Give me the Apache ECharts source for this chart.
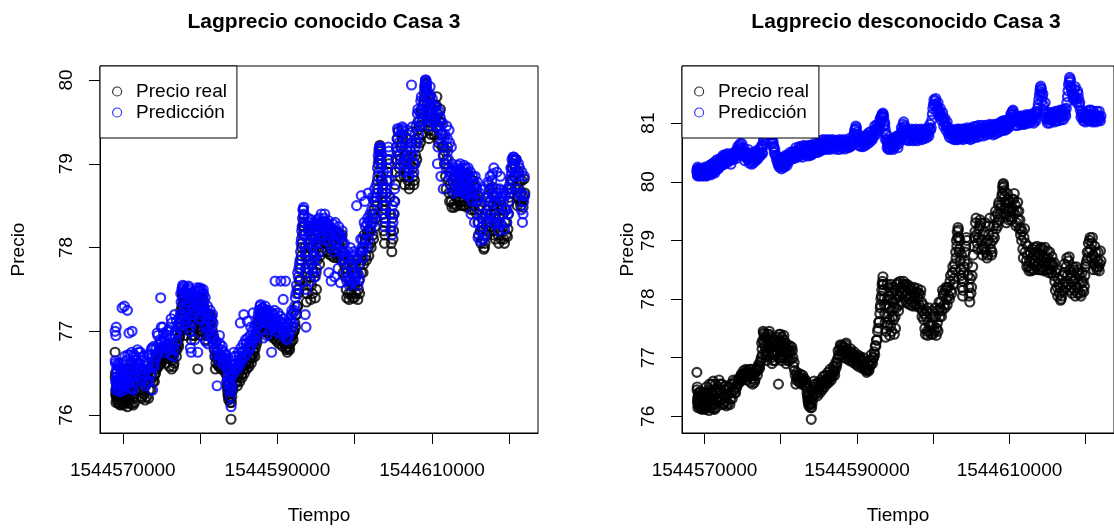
<!DOCTYPE html>
<html>
<head>
<meta charset="utf-8">
<script src="https://cdn.jsdelivr.net/npm/echarts@6/dist/echarts.min.js"></script>
<style>
  html, body { margin: 0; padding: 0; background: #ffffff; }
  #chart { width: 1114px; height: 530px; }
</style>
</head>
<body>
<div id="chart"></div>
<script>
// Marcas de tiempo (segundos Unix) de cada observación
const tiempo = [
  1544569000,1544569025,1544569050,1544569075,1544569100,1544569125,1544569150,1544569175,1544569200,1544569225,1544569250,1544569275,1544569300,1544569350,1544569400,1544569450,1544569500,1544569550,1544569600,1544569650,1544569700,1544569750,1544569800,1544569850,1544569900,1544569950,1544570000,
  1544570050,1544570100,1544570150,1544570200,1544570250,1544570300,1544570350,1544570400,1544570450,1544570500,1544570550,1544570600,1544570650,1544570700,1544570750,1544570800,1544570850,1544570900,1544570950,1544571000,1544571050,1544571100,1544571150,1544571200,1544571250,1544571300,1544571350,1544571400,1544571450,1544571500,1544571550,1544571600,1544571675,1544571750,1544571825,1544571900,
  1544571975,1544572050,1544572125,1544572200,1544572275,1544572350,1544572425,1544572500,1544572575,1544572650,1544572725,1544572800,1544572875,1544572950,1544573025,1544573100,1544573175,1544573250,1544573325,1544573400,1544573475,1544573550,1544573625,1544573700,1544573775,1544573850,1544573925,1544574000,
  1544574075,1544574150,1544574225,1544574300,1544574375,1544574450,1544574525,1544574600,1544574675,1544574750,1544574825,1544574900,1544574975,1544575050,1544575125,1544575200,1544575275,1544575350,1544575425,1544575500,1544575575,1544575650,1544575725,1544575800,1544575875,1544575950,1544576025,1544576100,1544576175,1544576250,1544576325,1544576400,1544576475,1544576550,1544576625,1544576700,1544576775,1544576850,1544576925,1544577000,1544577075,1544577150,1544577225,1544577300,
  1544577375,1544577450,1544577500,1544577550,1544577600,1544577650,1544577700,1544577750,1544577800,1544577850,1544577900,1544577950,1544578000,1544578050,1544578100,1544578150,1544578200,1544578250,1544578300,1544578350,1544578400,1544578450,1544578500,1544578550,1544578600,1544578650,1544578700,1544578750,1544578800,1544578850,1544578900,1544578950,1544579000,1544579050,1544579100,1544579150,
  1544579225,1544579300,1544579375,1544579450,1544579525,1544579600,1544579650,1544579700,
  1544579750,1544579800,1544579850,1544579900,1544579950,1544580000,1544580050,1544580100,1544580150,1544580200,1544580250,1544580300,1544580350,1544580400,1544580450,1544580500,1544580550,1544580600,1544580650,1544580700,1544580750,1544580800,1544580850,1544580900,1544580950,1544581000,
  1544581075,1544581150,1544581225,1544581300,1544581375,1544581450,1544581525,1544581600,1544581675,1544581750,
  1544581825,1544581900,1544581975,1544582050,1544582125,1544582200,1544582275,1544582350,1544582425,1544582500,1544582575,1544582650,1544582725,1544582800,1544582875,1544582950,1544583025,1544583100,1544583175,1544583250,
  1544583325,1544583400,1544583450,1544583500,1544583550,1544583600,1544583650,1544583700,1544583750,1544583800,1544583850,1544583900,1544583950,1544584000,1544584050,1544584100,1544584150,1544584200,1544584250,1544584300,1544584375,1544584450,1544584525,1544584600,1544584675,1544584750,
  1544584825,1544584900,1544584975,1544585050,1544585125,1544585200,1544585275,1544585350,1544585425,1544585500,1544585575,1544585650,1544585725,1544585800,1544585875,1544585950,1544586025,1544586100,1544586175,1544586250,1544586325,1544586400,1544586475,1544586550,1544586625,1544586700,1544586775,1544586850,1544586925,1544587000,1544587075,1544587150,1544587225,1544587300,
  1544587375,1544587450,1544587525,1544587600,1544587675,1544587750,1544587825,1544587900,1544587975,1544588050,1544588125,1544588200,1544588275,1544588350,1544588425,1544588500,1544588575,1544588650,1544588725,1544588800,1544588875,1544588950,1544589025,1544589100,1544589175,1544589250,
  1544589325,1544589400,1544589475,1544589550,1544589625,1544589700,1544589775,1544589850,1544589925,1544590000,1544590075,1544590150,1544590225,1544590300,1544590375,1544590450,1544590525,1544590600,1544590675,1544590750,1544590825,1544590900,1544590975,1544591050,1544591125,1544591200,1544591275,1544591350,1544591425,1544591500,1544591575,1544591650,1544591725,1544591800,1544591875,1544591950,1544592025,1544592100,
  1544592175,1544592250,1544592325,1544592400,1544592475,1544592550,1544592625,1544592700,1544592775,1544592850,1544592925,1544593000,
  1544593050,1544593100,1544593150,1544593200,1544593250,1544593300,1544593350,1544593400,1544593450,1544593500,1544593550,1544593600,1544593650,1544593700,1544593750,1544593800,1544593850,1544593900,1544593950,1544594000,1544594050,1544594100,1544594150,1544594200,1544594250,1544594300,1544594350,1544594400,1544594450,1544594500,1544594550,1544594600,1544594650,1544594700,1544594750,1544594800,1544594850,1544594900,1544594950,1544595000,1544595050,1544595100,1544595150,1544595200,1544595250,1544595300,
  1544595375,1544595450,1544595525,1544595600,1544595675,1544595750,1544595825,1544595900,1544595975,1544596050,1544596125,1544596200,
  1544596275,1544596350,1544596425,1544596500,1544596575,1544596650,1544596725,1544596800,1544596875,1544596950,1544597025,1544597100,1544597175,1544597250,1544597325,1544597400,1544597475,1544597550,1544597625,1544597700,1544597775,1544597850,1544597925,1544598000,1544598075,1544598150,1544598225,1544598300,1544598375,1544598450,1544598525,1544598600,1544598675,1544598750,1544598825,1544598900,1544598975,1544599050,1544599125,1544599200,1544599275,1544599350,1544599425,1544599500,1544599575,1544599650,1544599725,1544599800,1544599875,1544599950,1544600025,1544600100,1544600175,1544600250,1544600325,1544600400,1544600475,1544600550,1544600625,1544600700,1544600775,1544600850,1544600925,1544601000,1544601075,1544601150,1544601225,1544601300,1544601375,1544601450,1544601525,1544601600,1544601675,1544601750,1544601825,1544601900,1544601975,1544602050,
  1544602125,1544602200,1544602275,1544602350,1544602425,1544602500,1544602575,1544602650,1544602725,1544602800,1544602875,1544602950,
  1544603000,1544603050,1544603100,1544603150,1544603200,1544603250,1544603300,1544603350,1544603400,1544603450,1544603500,1544603550,1544603600,1544603650,1544603700,1544603750,1544603800,1544603850,1544603900,1544603950,1544604000,1544604050,
  1544604125,1544604200,1544604275,1544604350,1544604425,1544604500,1544604575,1544604650,1544604725,1544604800,1544604875,1544604950,1544605025,1544605100,1544605175,1544605250,1544605325,1544605400,1544605475,1544605550,1544605625,1544605700,1544605775,1544605850,1544605925,1544606000,1544606075,1544606150,1544606225,1544606300,1544606375,1544606450,1544606525,1544606600,1544606675,1544606750,1544606825,1544606900,1544606975,1544607050,1544607125,1544607200,1544607275,1544607350,1544607425,1544607500,1544607575,1544607650,
  1544607725,1544607800,1544607875,1544607950,1544608025,1544608100,1544608175,1544608250,1544608325,1544608400,1544608475,1544608550,1544608625,1544608700,1544608775,1544608850,1544608925,1544609000,
  1544609050,1544609100,1544609150,1544609200,1544609250,1544609300,1544609350,1544609400,1544609450,1544609500,1544609550,1544609600,1544609650,1544609700,1544609750,1544609800,
  1544609875,1544609950,1544610025,1544610100,1544610175,1544610250,
  1544610325,1544610400,1544610475,1544610550,1544610625,1544610700,1544610775,1544610850,1544610925,1544611000,1544611075,1544611150,1544611225,1544611300,1544611375,1544611450,1544611525,1544611600,1544611675,1544611750,1544611825,1544611900,1544611975,1544612050,1544612125,1544612200,1544612275,1544612350,1544612425,1544612500,1544612575,1544612650,1544612725,1544612800,
  1544612875,1544612950,1544613025,1544613100,1544613175,1544613250,1544613325,1544613400,1544613475,1544613550,1544613625,1544613700,1544613775,1544613850,1544613925,1544614000,
  1544614050,1544614100,1544614150,1544614200,1544614250,1544614300,
  1544614375,1544614450,1544614525,1544614600,1544614675,1544614750,1544614825,1544614900,1544614975,1544615050,1544615125,1544615200,1544615275,1544615350,1544615425,1544615500,
  1544615575,1544615650,1544615725,1544615800,1544615875,1544615950,1544616025,1544616100,1544616175,1544616250,1544616325,1544616400,1544616475,1544616550,1544616625,1544616700,1544616775,1544616850,1544616925,1544617000,1544617075,1544617150,1544617225,1544617300,1544617375,1544617450,1544617525,1544617600,1544617675,1544617750,1544617825,1544617900,
  1544617950,1544618000,1544618050,1544618100,1544618175,1544618250,1544618325,1544618400,
  1544618475,1544618550,1544618625,1544618700,1544618775,1544618850,1544618925,1544619000,1544619075,1544619150,1544619225,1544619300,1544619375,1544619450,1544619525,1544619600,1544619675,1544619750,1544619825,1544619900,1544619975,1544620050,1544620125,1544620200,1544620275,1544620350,1544620425,1544620500,1544620575,1544620650,1544620725,1544620800,1544620875,1544620950,1544621025,1544621100,1544621175,1544621250,1544621325,1544621400,1544621475,1544621550,1544621625,1544621700,1544621775,1544621850,1544621925,1544622000
];

// Precio observado
const precioReal = [
  76.75,76.45,76.50,76.25,76.30,76.15,76.22,76.35,76.40,76.25,76.18,76.40,76.28,76.22,76.15,76.42,76.35,76.13,76.20,76.38,76.12,76.22,76.30,76.40,76.18,76.14,76.25,
  76.40,76.12,76.22,76.35,76.50,76.15,76.28,76.40,76.45,76.20,76.32,76.10,76.55,76.30,76.25,76.18,76.15,76.42,76.55,76.22,76.38,76.13,76.60,76.35,76.28,76.20,76.12,76.45,76.55,76.15,76.40,76.30,76.25,76.50,76.40,76.62,
  76.45,76.55, 76.30,76.40, 76.55,76.30, 76.20,76.22, 76.35,76.45, 76.52,76.25, 76.18,76.35, 76.48,76.22, 76.40,76.50, 76.20,76.30, 76.55,76.40, 76.30,76.55, 76.62,76.45, 76.40,76.60,
  76.40,76.48, 76.50,76.55, 76.55,76.62, 76.65,76.58, 76.60,76.68, 76.72,76.65, 76.62,76.72, 76.78,76.70, 76.66,76.75, 76.80,76.68, 76.62,76.78, 76.74,76.72, 76.68,76.80, 76.58,76.70, 76.80,76.75, 76.55,76.65, 76.70,76.58, 76.62,76.75, 76.78,76.82, 76.70,76.78, 76.88,76.85, 76.82,76.92,
  76.95,77.00, 77.25,77.15, 77.05,77.30, 77.45,77.42, 77.25,77.35, 77.40,77.20, 77.12,77.05, 77.35,76.95, 77.02,77.10, 77.40,77.25, 77.18,77.40, 77.45,77.30, 77.22,77.15, 77.35,77.00, 77.08,76.90, 77.25,77.05, 76.95,77.20, 77.30,77.10,
  77.05,76.95, 77.30,77.20, 77.10,77.35, 77.25,76.55,
  77.15,77.40, 77.00,77.30, 77.40,77.10, 77.20,76.95, 77.35,77.05, 77.00,77.25, 77.15,77.38, 77.30,77.20, 77.10,77.00, 77.25,76.90, 77.10,77.05, 76.95,77.15, 77.20,76.98,
  77.10,76.95, 77.20,77.10, 76.98,77.18, 77.12,77.00, 76.85,76.92,
  76.78,76.70, 76.55,76.62, 76.75,76.68, 76.68,76.60, 76.58,76.66, 76.72,76.58, 76.55,76.65, 76.70,76.60, 76.65,76.55, 76.52,76.62,
  76.58,76.48, 76.40,76.35, 76.30,76.25, 76.22,76.18, 76.38,76.30, 76.20,76.15, 76.28,75.95, 76.15,76.22, 76.42,76.35, 76.30,76.45, 76.60,76.55, 76.38,76.50, 76.55,76.40,
  76.35,76.45, 76.58,76.50, 76.40,76.55, 76.62,76.48, 76.45,76.58, 76.68,76.55, 76.50,76.62, 76.70,76.60, 76.55,76.65, 76.75,76.62, 76.58,76.70, 76.80,76.68, 76.62,76.72, 76.68,76.78, 76.85,76.75, 76.70,76.80, 76.92,76.85,
  76.90,76.98, 77.12,77.05, 77.02,77.15, 77.22,77.20, 77.05,77.12, 77.20,77.08, 77.00,77.18, 77.12,77.22, 77.25,77.15, 76.98,77.05, 77.12,77.00, 76.95,77.10, 77.15,77.02,
  77.08,76.95, 76.92,77.05, 77.10,76.98, 77.02,76.90, 76.88,77.00, 77.05,76.92, 76.85,76.98, 77.02,76.95, 76.98,76.88, 76.82,76.95, 77.00,76.85, 76.90,76.80, 76.85,76.78, 76.75,76.82, 76.90,76.80, 76.78,76.85, 76.95,76.88, 77.05,76.95, 76.90,77.00,
  77.00,77.10, 77.05,77.20, 77.20,77.30, 77.30,77.45, 77.50,77.60, 77.62,77.75,
  77.85,77.90, 78.00,78.05, 78.15,78.25, 78.30,78.38, 78.25,78.15, 78.00,77.90, 77.75,77.60, 77.35,77.45, 77.90,77.70, 78.25,78.00, 77.55,78.20, 78.05,77.85, 77.65,77.38, 78.00,77.55, 78.25,77.80, 77.45,78.10, 77.70,77.95, 78.20,77.65, 77.85,77.40, 78.15,77.70, 77.50,78.00, 77.85,78.25, 78.10,78.05,
  78.28,77.80, 77.90,78.05, 78.30,78.20, 77.95,78.10, 78.12,78.25, 78.30,78.15,
  78.25,78.05, 77.95,78.20, 78.25,78.10, 77.92,78.00, 78.22,78.15, 77.90,78.05, 78.18,77.95, 77.88,78.10, 78.20,78.05, 78.10,77.92, 77.88,78.12, 78.18,78.02, 78.10,77.90, 77.85,78.08, 78.15,77.95, 77.70,77.80, 77.90,77.65, 77.75,77.50, 77.40,77.70, 77.80,77.45,
  77.38,77.60, 77.85,77.45, 77.55,77.75, 77.40,77.55, 77.80,77.40, 77.55,77.70, 77.45,77.85, 77.70,77.38, 77.50,77.60, 77.45,77.80, 77.95,77.70, 77.85,77.95, 77.70,77.80, 78.15,78.05, 78.10,77.90, 77.85,78.15, 78.20,78.00, 77.90,78.20, 78.20,78.05,
  78.00,78.30, 78.40,78.15, 78.10,78.45, 78.55,78.25, 78.35,78.60, 78.50,78.80,
  78.70,79.00, 78.90,79.15, 79.05,79.22, 79.18,79.05, 78.80,78.85, 79.00,78.65, 78.50,78.40, 78.75,78.20, 78.35,78.05, 78.15,78.30, 78.45,78.55,
  78.65,78.80, 78.90,79.05, 79.00,78.60, 78.40,78.20, 78.05,77.95, 78.35,78.10, 78.20,78.40, 78.55,78.75, 78.90,79.05, 79.15,79.30, 79.38,79.10, 78.95,78.85, 79.05,79.20, 79.25,79.35, 79.30,79.00, 78.85,78.75, 79.10,78.90, 78.85,79.15, 79.30,78.80, 78.95,78.70, 78.75,79.00, 79.10,79.25, 79.38,78.95, 78.85,78.75,
  78.80,79.00, 79.10,79.25, 79.05,79.40, 79.50,79.20, 79.30,79.45, 79.25,79.60, 79.65,79.35, 79.45,79.55, 79.60,79.75,
  79.80,79.90, 79.95,79.97, 79.92,79.85, 79.75,79.65, 79.55,79.45, 79.40,79.30, 79.65,79.50, 79.80,79.70,
  79.35,79.55, 79.65,79.40, 79.50,79.35,
  79.70,79.55, 79.50,79.70, 79.80,79.45, 79.60,79.25, 79.30,79.50, 79.65,79.35, 79.50,79.20, 79.35,79.10, 79.20,79.00, 79.15,78.85, 78.70,79.05, 79.20,78.80, 78.95,78.65, 78.55,78.75, 78.90,78.55, 78.48,78.65, 78.80,78.52,
  78.48,78.70, 78.85,78.60, 78.50,78.75, 78.88,78.65, 78.55,78.80, 78.90,78.70, 78.50,78.60, 78.85,78.75,
  78.50,78.68, 78.88,78.55, 78.50,78.65,
  78.85,78.72, 78.48,78.62, 78.88,78.70, 78.50,78.58, 78.82,78.70, 78.45,78.62, 78.80,78.50, 78.62,78.45,
  78.72,78.60, 78.55,78.40, 78.62,78.30, 78.15,78.45, 78.50,78.20, 78.05,78.35, 78.25,78.10, 78.20,77.98, 78.00,78.05, 78.40,78.25, 78.15,78.45, 78.60,78.30, 78.20,78.55, 78.70,78.40, 78.25,78.65, 78.72,78.50,
  78.15,78.35, 78.45,78.20, 78.10,78.40, 78.55,78.30,
  78.50,78.15, 78.05,78.35, 78.55,78.20, 78.10,78.45, 78.50,78.25, 78.40,78.10, 78.05,78.30, 78.45,78.15, 78.30,78.13, 78.22,78.40, 78.55,78.60, 78.65,78.80, 78.70,78.95, 78.80,79.00, 79.05,78.85, 78.70,78.95, 79.05,78.75, 78.50,78.60, 78.90,78.70, 78.80,78.55, 78.50,78.65, 78.80,78.55, 78.48,78.60, 78.82,78.65
];

// Predicción con el precio retardado conocido
const predConocido = [
  77.00,76.65,76.62,76.40,76.95,76.30,77.05,76.50,76.55,76.42,76.35,76.60,76.45,76.38,76.30,76.58,76.62,76.32,76.42,76.55,76.28,76.45,76.50,76.62,77.28,76.35,76.40,
  76.55,76.30,76.45,77.30,76.70,76.38,76.42,76.55,76.65,76.35,76.50,77.25,76.72,76.52,76.40,76.98,76.33,76.60,76.72,76.45,76.55,76.32,76.75,77.00,76.45,76.48,76.30,76.62,76.72,76.40,76.58,76.70,76.45,76.65,76.60,76.78,
  76.62,76.75, 76.48,76.60, 76.75,76.55, 76.40,76.45, 76.55,76.70, 76.70,76.50, 76.35,76.62, 76.65,76.38, 76.58,76.72, 76.40,76.55, 76.72,76.48, 76.50,76.78, 76.80,76.30, 76.60,76.82,
  76.58,76.65, 76.72,76.80, 76.70,76.98, 76.95,76.75, 76.78,76.85, 76.90,77.40, 77.05,76.88, 76.82,77.05, 76.98,76.92, 76.88,76.80, 76.75,76.95, 77.00,76.85, 76.82,77.02, 76.95,76.78, 76.72,77.15, 77.10,76.82, 76.85,76.70, 76.78,77.20, 76.95,77.00, 77.12,76.88, 76.98,77.08, 77.05,77.15,
  77.10,77.20, 77.45,77.35, 77.20,77.50, 77.52,77.55, 77.38,77.48, 77.54,77.40, 77.25,77.30, 77.48,77.10, 77.15,77.25, 77.50,77.45, 77.35,77.52, 77.54,77.45, 77.30,77.00, 77.05,76.80, 77.15,76.75, 77.40,77.20, 77.10,77.35, 77.45,77.25,
  77.20,76.90, 77.48,77.40, 77.25,77.52, 77.40,76.75,
  77.30,77.50, 77.15,77.48, 77.52,77.30, 77.35,77.15, 77.50,77.45, 77.20,77.40, 77.30,77.50, 77.45,77.35, 77.25,77.05, 77.40,76.88, 77.15,77.22, 77.05,77.00, 77.30,76.85,
  77.20,77.12, 77.00,77.25, 77.15,76.92, 77.05,77.20, 77.10,76.95,
  76.90,76.80, 76.72,76.85, 76.88,76.35, 76.80,76.72, 76.65,76.95, 76.85,76.70, 76.70,76.78, 76.82,76.62, 76.60,76.75, 76.72,76.68,
  76.72,76.65, 76.60,76.55, 76.40,76.45, 76.48,76.30, 76.55,76.40, 76.35,76.22, 76.45,76.10, 76.28,76.35, 76.60,76.50, 76.48,76.60, 76.75,76.70, 76.55,76.62, 76.70,76.58,
  76.55,76.62, 76.75,76.70, 76.60,77.10, 76.80,76.68, 76.65,76.75, 76.85,77.20, 76.70,76.78, 76.90,76.85, 76.72,77.12, 76.92,76.80, 76.78,76.88, 76.95,77.05, 76.82,76.90, 77.00,77.22, 76.88,76.92, 77.05,76.98, 76.95,77.08,
  77.05,77.15, 77.20,77.25, 77.10,77.30, 77.32,77.22, 77.18,77.28, 77.28,76.92, 77.12,77.26, 77.30,77.10, 77.22,76.95, 77.15,77.20, 77.25,77.12, 77.08,77.02, 77.20,76.75,
  77.22,77.10, 77.05,77.20, 77.25,77.60, 77.15,77.05, 77.00,77.15, 77.22,76.98, 77.05,77.12, 77.18,77.60, 77.10,77.05, 76.95,77.38, 77.15,77.00, 77.05,77.60, 77.00,76.90, 76.92,77.10, 77.08,76.95, 77.00,77.15, 77.12,77.20, 77.25,77.05, 77.10,77.22,
  77.25,77.30, 77.40,77.45, 77.55,77.50, 77.70,77.65, 77.75,77.80, 77.85,77.95,
  78.05,78.10, 78.20,78.25, 78.35,78.45, 78.45,78.48, 78.40,78.30, 78.15,77.20, 77.95,77.05, 77.50,77.70, 78.10,77.95, 78.35,78.20, 77.75,78.30, 78.25,78.05, 77.85,77.60, 78.15,77.80, 78.33,78.00, 77.70,78.25, 77.90,78.12, 78.30,77.85, 78.05,77.65, 78.28,77.90, 77.75,78.18, 78.05,78.33, 78.25,78.20,
  78.35,77.95, 78.10,78.22, 78.40,78.30, 78.15,78.25, 78.30,78.35, 78.40,78.30,
  78.30,78.20, 78.10,78.28, 78.32,77.70, 78.05,78.15, 78.25,77.60, 78.00,78.22, 78.28,78.10, 77.95,77.65, 78.30,78.18, 78.15,78.05, 77.98,77.75, 78.25,78.15, 78.15,77.58, 77.95,78.12, 78.20,78.05, 77.85,77.95, 78.05,77.85, 77.90,77.70, 77.60,77.88, 77.95,77.65,
  77.55,77.80, 78.00,77.62, 77.70,77.90, 77.58,77.75, 77.95,77.60, 77.70,77.85, 77.65,78.50, 77.88,77.55, 77.68,77.80, 77.62,77.95, 78.10,78.62, 78.00,78.10, 77.88,78.00, 78.30,78.55, 78.25,78.08, 78.00,78.28, 78.35,78.65, 78.10,78.32, 78.40,78.25,
  78.20,78.45, 78.60,78.35, 78.30,78.60, 78.70,78.40, 78.55,78.75, 78.65,78.95,
  78.85,79.10, 79.05,79.18, 79.15,79.20, 79.20,79.15, 78.95,79.00, 79.10,78.80, 78.70,78.60, 78.90,78.40, 78.50,78.25, 78.35,78.50, 78.65,78.70,
  78.80,78.95, 79.05,79.20, 79.15,78.80, 78.60,78.40, 78.25,78.15, 78.50,78.30, 78.40,78.55, 78.70,78.90, 79.05,79.20, 79.30,79.42, 79.40,79.25, 79.10,79.00, 79.20,79.35, 79.40,79.44, 79.42,79.15, 79.00,78.90, 79.25,79.05, 79.00,79.30, 79.40,78.95, 79.10,78.85, 78.92,79.15, 79.25,79.94, 79.44,79.10, 79.00,78.90,
  79.00,79.20, 79.30,79.45, 79.25,79.60, 79.65,79.35, 79.50,79.62, 79.45,79.75, 79.80,79.50, 79.60,79.70, 79.75,79.85,
  79.92,79.95, 80.00,80.00, 79.98,79.95, 79.88,79.80, 79.70,79.60, 79.55,79.45, 79.78,79.65, 79.92,79.82,
  79.50,79.70, 79.78,79.55, 79.65,79.50,
  79.55,79.68, 79.68,79.60, 79.45,79.00, 79.20,79.40, 79.45,79.62, 79.55,78.85, 79.25,79.35, 79.48,78.70, 79.10,79.30, 79.35,79.00, 78.95,79.45, 79.30,79.15, 79.05,79.40, 79.25,78.90, 78.85,79.20, 79.00,78.80, 78.92,78.70,
  78.65,78.85, 78.95,78.78, 78.68,78.90, 78.98,78.80, 78.70,78.93, 79.00,78.85, 78.68,78.75, 78.95,78.90,
  78.65,78.82, 78.98,78.70, 78.65,78.80,
  78.95,78.88, 78.62,78.78, 78.95,78.85, 78.65,78.72, 78.90,78.40, 78.58,78.55, 78.85,78.65, 78.75,78.30,
  78.85,78.75, 78.70,78.55, 78.78,78.12, 78.30,78.60, 78.65,78.08, 78.20,78.50, 78.40,78.25, 78.35,78.10, 78.15,78.70, 78.55,78.40, 78.30,78.60, 78.78,78.75, 78.38,78.68, 78.85,78.55, 78.42,78.80, 78.88,78.62,
  78.30,78.95, 78.62,78.35, 78.28,78.55, 78.70,78.90,
  78.65,78.30, 78.20,78.50, 78.70,78.85, 78.28,78.60, 78.68,78.40, 78.55,78.65, 78.22,78.45, 78.62,78.30, 78.45,78.70, 78.40,78.55, 78.70,78.75, 78.82,78.95, 78.88,79.05, 78.95,79.08, 79.08,79.00, 78.85,79.05, 79.05,78.90, 78.65,78.70, 79.00,78.85, 78.95,78.65, 78.62,78.45, 78.90,78.30, 78.40,78.55, 78.85,78.62
];

// Predicción sin conocer el precio retardado
const predDesconocido = [
  80.20,80.17,80.15,80.10,80.25,80.22,80.12,80.15,80.18,80.20,80.10,80.12,80.22,80.18,80.13,80.10,80.20,80.22,80.15,80.14,80.10,80.20,80.18,80.10,80.12,80.18,80.22,
  80.25,80.14,80.10,80.20,80.22,80.10,80.15,80.17,80.25,80.12,80.12,80.22,80.28,80.15,80.20,80.18,80.12,80.25,80.30,80.15,80.18,80.20,80.32,80.28,80.22,80.18,80.15,80.22,80.35,80.30,80.20,80.24,80.38,80.32,80.22,80.28,
  80.25,80.35, 80.40,80.30, 80.28,80.42, 80.45,80.32, 80.30,80.40, 80.46,80.35, 80.32,80.45, 80.48,80.38, 80.35,80.42, 80.45,80.36, 80.30,80.44, 80.48,80.40, 80.38,80.48, 80.42,80.50,
  80.52,80.45, 80.40,80.55, 80.60,80.50, 80.48,80.62, 80.65,80.58, 80.55,80.65, 80.45,80.52, 80.58,80.48, 80.36,80.44, 80.50,80.40, 80.42,80.50, 80.55,80.38, 80.32,80.45, 80.48,80.35, 80.30,80.42, 80.45,80.32, 80.50,80.38, 80.35,80.45, 80.52,80.40, 80.38,80.48, 80.55,80.42, 80.48,80.55,
  80.45,80.58, 80.62,80.50, 80.48,80.62, 80.60,80.70, 80.72,80.80, 80.78,80.88, 80.90,80.95, 80.95,81.02, 80.90,80.98, 80.95,81.00, 81.02,80.92, 80.95,80.85, 80.82,80.90, 80.88,80.80, 80.75,80.72, 80.80,80.65, 80.68,80.58, 80.60,80.50,
  80.55,80.45, 80.45,80.38, 80.42,80.32, 80.35,80.28,
  80.38,80.25, 80.30,80.35, 80.42,80.28, 80.35,80.22, 80.28,80.30, 80.36,80.40, 80.25,80.32, 80.40,80.25, 80.30,80.38, 80.45,80.30, 80.36,80.42, 80.28,80.35, 80.46,80.40,
  80.35,80.45, 80.50,80.38, 80.42,80.45, 80.40,80.50, 80.52,80.42,
  80.40,80.48, 80.58,80.52, 80.50,80.45, 80.42,80.55, 80.60,80.50, 80.45,80.58, 80.60,80.48, 80.42,80.55, 80.62,80.52, 80.48,80.60,
  80.45,80.55, 80.60,80.50, 80.44,80.58, 80.62,80.52, 80.58,80.48, 80.45,80.55, 80.62,80.50, 80.46,80.58, 80.62,80.52, 80.48,80.60, 80.65,80.55, 80.50,80.58, 80.55,80.62,
  80.50,80.58, 80.66,80.62, 80.52,80.55, 80.70,80.65, 80.54,80.60, 80.72,80.68, 80.55,80.62, 80.70,80.58, 80.56,80.66, 80.72,80.60, 80.55,80.68, 80.70,80.62, 80.58,80.65, 80.72,80.60, 80.56,80.66, 80.70,80.62, 80.60,80.68,
  80.70,80.62, 80.55,80.66, 80.72,80.60, 80.56,80.65, 80.70,80.62, 80.58,80.68, 80.72,80.63, 80.56,80.66, 80.70,80.62, 80.68,80.60, 80.58,80.65, 80.74,80.68, 80.60,80.62,
  80.62,80.70, 80.72,80.78, 80.82,80.88, 80.90,80.95, 80.92,80.85, 80.80,80.75, 80.62,80.68, 80.72,80.62, 80.60,80.70, 80.75,80.65, 80.60,80.72, 80.78,80.68, 80.62,80.75, 80.80,80.70, 80.65,80.78, 80.84,80.72, 80.68,80.80, 80.86,80.75, 80.72,80.82,
  80.78,80.85, 80.95,80.90, 80.80,80.88, 80.98,80.92, 80.86,80.95, 80.92,81.00,
  81.08,81.05, 81.02,81.10, 81.12,81.15, 81.10,81.17, 81.14,81.10, 80.95,81.02, 80.98,80.90, 80.72,80.80, 80.82,80.72, 80.58,80.65, 80.70,80.60, 80.55,80.58, 80.68,80.62, 80.56,80.68, 80.72,80.65, 80.60,80.70, 80.74,80.62, 80.55,80.58, 80.72,80.66, 80.60,80.72, 80.76,80.68, 80.62,80.75, 80.78,80.70,
  80.58,80.65, 80.80,80.72, 80.70,80.78, 80.92,80.85, 80.88,80.98, 81.02,80.92,
  80.95,80.85, 80.72,80.80, 80.88,80.75, 80.70,80.82, 80.88,80.78, 80.72,80.85, 80.90,80.80, 80.70,80.76, 80.88,80.84, 80.72,80.78, 80.90,80.82, 80.70,80.75, 80.88,80.80, 80.74,80.86, 80.90,80.78, 80.72,80.82, 80.88,80.76, 80.74,80.84, 80.90,80.80, 80.75,80.86,
  80.92,80.82, 80.78,80.90, 80.98,80.88, 80.92,81.05, 81.15,81.25, 81.32,81.40, 81.30,81.38, 81.42,81.32, 81.20,81.28, 81.35,81.22, 81.12,81.18, 81.25,81.15, 81.05,81.10, 81.18,81.08, 80.95,81.02, 81.08,80.98, 80.88,80.95, 81.02,80.92, 80.82,80.88,
  80.76,80.85, 80.90,80.80, 80.74,80.88, 80.88,80.78, 80.72,80.82, 80.86,80.75,
  80.72,80.80, 80.90,80.85, 80.72,80.78, 80.88,80.82, 80.90,80.76, 80.74,80.84, 80.88,80.80, 80.74,80.86, 80.90,80.80, 80.72,80.78, 80.88,80.84,
  80.90,80.78, 80.74,80.85, 80.92,80.80, 80.74,80.88, 80.90,80.82, 80.72,80.78, 80.92,80.85, 80.74,80.80, 80.94,80.86, 80.76,80.82, 80.94,80.88, 80.76,80.84, 80.96,80.90, 80.78,80.86, 80.84,80.92, 80.96,80.88, 80.78,80.85, 80.84,80.92, 80.96,80.88, 80.80,80.90, 80.96,80.86, 80.82,80.92, 80.98,80.88, 80.84,80.95,
  80.96,80.85, 80.80,80.92, 80.98,80.88, 80.82,80.95, 80.98,80.90, 80.84,80.96, 81.00,80.92, 80.86,80.98, 81.02,80.94,
  80.88,81.00, 81.04,80.96, 80.88,81.00, 81.04,80.95, 80.88,80.98, 81.04,80.94, 80.90,81.00, 81.05,80.96,
  80.92,81.02, 81.08,80.98, 81.15,81.10,
  81.18,81.20, 81.22,81.15, 81.12,81.08, 80.96,81.05, 81.10,81.02, 80.96,81.06, 81.12,81.02, 80.98,81.08, 81.12,81.04, 80.98,81.08, 81.12,81.02, 80.98,81.06, 81.14,81.04, 81.00,81.08, 81.14,81.05, 81.00,81.10, 81.14,81.06,
  81.02,81.10, 81.16,81.08, 81.00,81.12, 81.18,81.08, 81.04,81.15, 81.20,81.25, 81.32,81.40, 81.48,81.55,
  81.60,81.63, 81.52,81.58, 81.38,81.45,
  81.50,81.30, 81.22,81.18, 81.35,81.10, 81.15,81.05, 81.00,81.08, 81.18,81.12, 81.00,81.06, 81.18,81.10,
  81.04,81.15, 81.18,81.08, 81.02,81.12, 81.20,81.10, 81.04,81.14, 81.20,81.10, 81.04,81.16, 81.22,81.12, 81.06,81.15, 81.22,81.12, 81.06,81.18, 81.24,81.15, 81.12,81.25, 81.35,81.45, 81.55,81.65, 81.70,81.78,
  81.75,81.72, 81.62,81.60, 81.55,81.50, 81.48,81.40,
  81.45,81.58, 81.62,81.45, 81.40,81.35, 81.55,81.50, 81.42,81.30, 81.35,81.22, 81.10,81.15, 81.20,81.10, 81.04,81.12, 81.18,81.08, 81.02,81.12, 81.20,81.10, 81.04,81.14, 81.22,81.10, 81.04,81.15, 81.22,81.12, 81.02,81.08, 81.20,81.12, 81.04,81.10, 81.02,81.14, 81.20,81.10, 81.04,81.12, 81.20,81.08, 81.04,81.12
];

// Marcas y etiquetas de los ejes
const ticksTiempo = [1544570000, 1544580000, 1544590000, 1544600000, 1544610000, 1544620000];
const etiquetasTiempo = [1544570000, 1544590000, 1544610000];
const ticksPrecioConocido = [76, 77, 78, 79, 80];
const ticksPrecioDesconocido = [76, 77, 78, 79, 80, 81];
const titulos = ['Lagprecio conocido Casa 3', 'Lagprecio desconocido Casa 3'];
const nombresSeries = ['Precio real', 'Predicción'];

[precioReal, predConocido, predDesconocido].forEach((serie) => {
  if (serie.length !== tiempo.length) {
    throw new Error('longitud distinta: ' + serie.length + ' frente a ' + tiempo.length);
  }
});

const FUENTE = '"Liberation Sans", Arial, Helvetica, sans-serif';
const NEGRO = '#000000';
const AZUL = '#0000ff';

// Marco de cada panel (px) y rango de su eje de precios
const paneles = [
  { left: 100, titleX: 319, yMin: 75.786, yMax: 80.167, yTicks: ticksPrecioConocido, yNameGap: 72, pred: predConocido },
  { left: 682, titleX: 901, yMin: 75.716, yMax: 81.974, yTicks: ticksPrecioDesconocido, yNameGap: 45, pred: predDesconocido }
];
const ANCHO = 438, ALTO = 368, ARRIBA = 66;
const X_MIN = 1544567050, X_MAX = 1544623710;

const puntos = (valores) => tiempo.map((t, i) => [t, valores[i]]);
const realXY = puntos(precioReal);

const estiloTexto = { fontFamily: FUENTE, fontSize: 19, color: NEGRO };

const option = {
  animation: false,
  backgroundColor: '#ffffff',
  textStyle: { fontFamily: FUENTE },
  title: paneles.map((p, i) => ({
    text: titulos[i],
    left: p.titleX,
    top: 7,
    textAlign: 'center',
    textStyle: { fontFamily: FUENTE, fontSize: 21, fontWeight: 'bold', color: NEGRO }
  })),
  legend: paneles.map((p) => ({
    data: nombresSeries,
    orient: 'vertical',
    left: p.left,
    top: ARRIBA,
    padding: [16, 10, 16, 12],
    itemWidth: 28,
    itemHeight: 9,
    itemGap: 2,
    borderColor: NEGRO,
    borderWidth: 1,
    borderRadius: 0,
    backgroundColor: '#ffffff',
    selectedMode: false,
    itemStyle: { borderWidth: 1.2 },
    textStyle: Object.assign({ lineHeight: 19 }, estiloTexto)
  })),
  grid: paneles.map((p) => ({
    left: p.left, top: ARRIBA, width: ANCHO, height: ALTO,
    show: true, borderColor: NEGRO, borderWidth: 1, backgroundColor: 'transparent'
  })),
  xAxis: paneles.map((p, i) => ({
    type: 'value', gridIndex: i, min: X_MIN, max: X_MAX,
    name: 'Tiempo', nameLocation: 'middle', nameGap: 73,
    nameTextStyle: estiloTexto,
    axisLine: { show: true, onZero: false, lineStyle: { color: NEGRO, width: 1 } },
    axisTick: { show: true, length: 11, customValues: ticksTiempo, lineStyle: { color: NEGRO, width: 1 } },
    axisLabel: Object.assign({ customValues: etiquetasTiempo, margin: 28, formatter: (v) => String(v) }, estiloTexto),
    splitLine: { show: false }
  })),
  yAxis: paneles.map((p, i) => ({
    type: 'value', gridIndex: i, min: p.yMin, max: p.yMax,
    name: 'Precio', nameLocation: 'middle', nameGap: p.yNameGap,
    nameTextStyle: estiloTexto,
    axisLine: { show: true, onZero: false, lineStyle: { color: NEGRO, width: 1 } },
    axisTick: { show: true, length: 11, customValues: p.yTicks, lineStyle: { color: NEGRO, width: 1 } },
    axisLabel: Object.assign({ customValues: p.yTicks, margin: 24, rotate: 90, formatter: (v) => String(v) }, estiloTexto),
    splitLine: { show: false }
  })),
  series: []
};

// Círculos abiertos como los de pch = 1
paneles.forEach((p, i) => {
  option.series.push({
    type: 'scatter', name: nombresSeries[0], xAxisIndex: i, yAxisIndex: i,
    data: realXY, symbol: 'circle', symbolSize: 9, silent: true,
    itemStyle: { color: 'rgba(0,0,0,0)', borderColor: NEGRO, borderWidth: 2.2 }
  });
  option.series.push({
    type: 'scatter', name: nombresSeries[1], xAxisIndex: i, yAxisIndex: i,
    data: puntos(p.pred), symbol: 'circle', symbolSize: 9, silent: true,
    itemStyle: { color: 'rgba(0,0,0,0)', borderColor: AZUL, borderWidth: 2.2 }
  });
});

const chart = echarts.init(document.getElementById('chart'), null, { renderer: 'canvas' });
chart.setOption(option);
</script>
</body>
</html>
